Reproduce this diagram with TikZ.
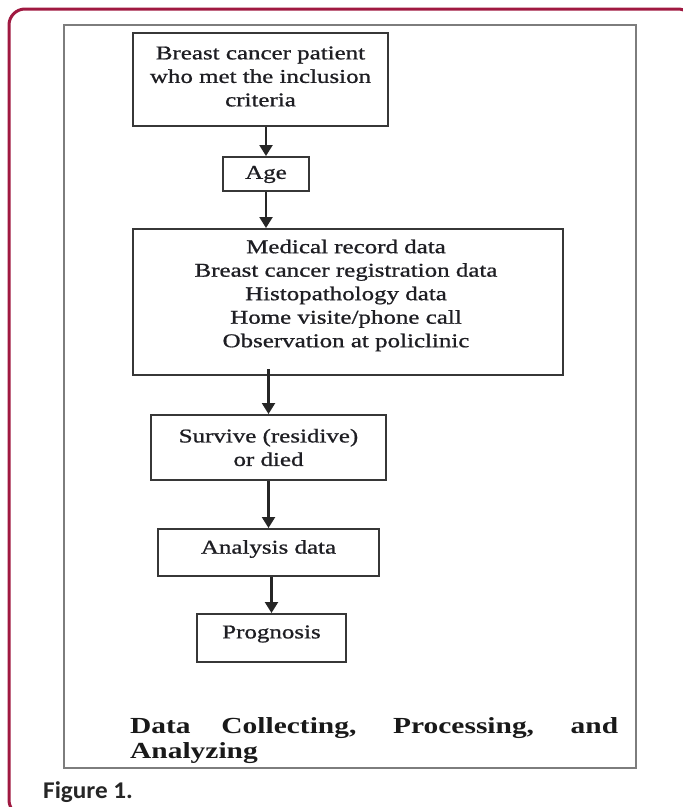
\documentclass[tikz,border=0pt]{standalone}
\usepackage{fontspec}
\setmainfont{Liberation Serif}[FakeStretch=1.28]
\newfontfamily\boxfont{Liberation Serif}[FakeStretch=1.28,FakeBold=0.9]
\newfontfamily\capfont{Carlito}[FakeStretch=1.05]
\usetikzlibrary{arrows.meta}
\definecolor{framecol}{RGB}{160,25,65}
\definecolor{boxline}{RGB}{55,55,55}
\definecolor{inframe}{RGB}{125,125,125}
\definecolor{txt}{RGB}{30,30,35}
\begin{document}
\begin{tikzpicture}[x=1pt,y=-1pt,
  boxnode/.style={draw=boxline, line width=2pt, inner sep=0pt},
  boxtext/.style={inner sep=0pt, align=center, text=txt, font=\boxfont\fontsize{19.5}{23.5}\selectfont},
  arr/.style={draw=black!85, line width=2.2pt, -{Triangle[length=11pt,width=13pt]}},
  bottomtext/.style={inner sep=0pt, anchor=base west, text=black!90, font=\fontsize{23}{25}\selectfont\bfseries}]
\useasboundingbox (0,0) rectangle (683,807);
\fill[white] (0,0) rectangle (683,807);
\begin{scope}
\clip (0,0) rectangle (683,807);
\draw[framecol, line width=3pt, rounded corners=16pt] (9,9) rectangle (694,816);
\end{scope}
\draw[inframe, line width=1.3pt] (64,25) rectangle (636,768);

% boxes
\node[boxnode, minimum width=255pt, minimum height=93pt] (b1) at (260.5,79.5) {};
\node[boxtext] (b1t) at (260.5,76.5) {Breast cancer patient\\who met the inclusion\\criteria};
\node[boxnode, minimum width=86pt, minimum height=34pt] (age) at (266,174) {};
\node[boxtext] (aget) at (266,174.5) {Age};
\node[boxnode, minimum width=430pt, minimum height=146pt] (big) at (348,302) {};
\node[boxtext] (bigt) at (346,295.5) {Medical record data\\Breast cancer registration data\\Histopathology data\\Home visite/phone call\\Observation at policlinic};
\node[boxnode, minimum width=235pt, minimum height=65pt] (surv) at (268.5,447.5) {};
\node[boxtext] (survt) at (268.5,447.5) {Survive (residive)\\or died};
\node[boxnode, minimum width=221pt, minimum height=47pt] (ana) at (268.5,552.5) {};
\node[boxtext] (anat) at (268.5,549) {Analysis data};
\node[boxnode, minimum width=149pt, minimum height=48pt] (prog) at (271.5,638) {};
\node[boxtext] (progt) at (271.5,634) {Prognosis};

% arrows
\draw[arr] (age.north |- b1.south) -- (age.north);
\draw[arr] (age.south) -- (age.south |- big.north);
\draw[arr] ([yshift=7pt]surv.north |- big.south) -- (surv.north);
\draw[arr] (surv.south) -- (ana.north);
\draw[arr] (prog.north |- ana.south) -- (prog.north);

% bottom title
\node[bottomtext] (title1) at (130,733) {\makebox[488pt][s]{Data Collecting, Processing, and}};
\node[bottomtext] (title2) at (130,758) {Analyzing};

% caption
\node[inner sep=0pt, anchor=base west, text=black!85, font=\capfont\bfseries\fontsize{24}{26}\selectfont] (cap) at (43,798) {Figure 1.};
\end{tikzpicture}
\end{document}
